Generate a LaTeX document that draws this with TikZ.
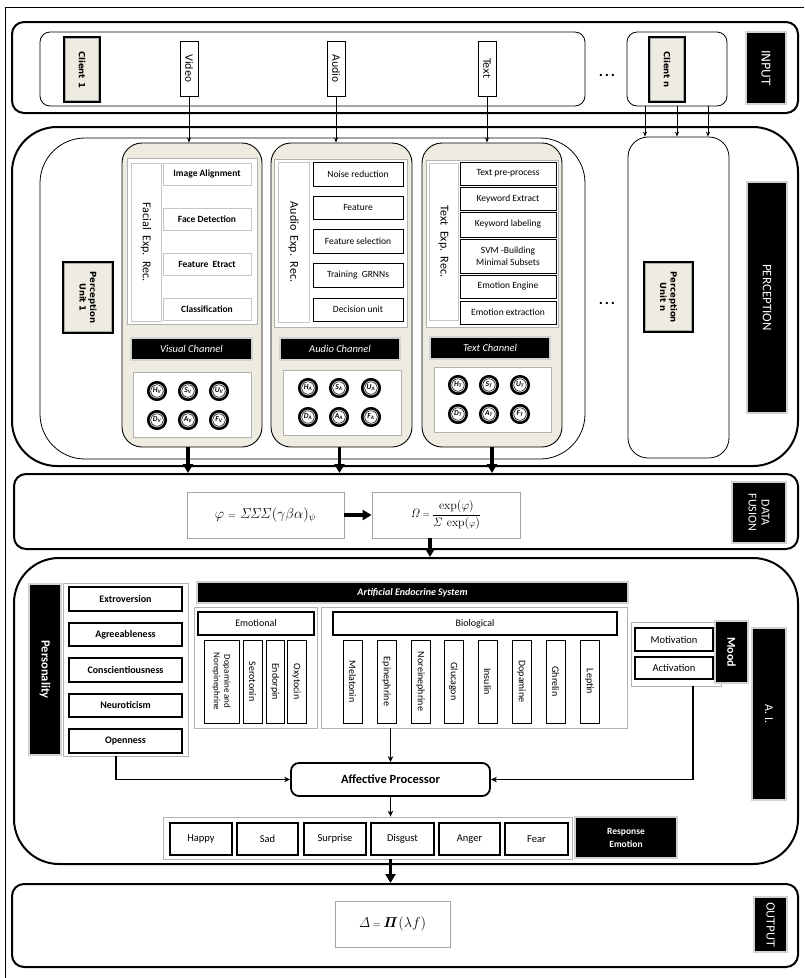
\documentclass[tikz,border=0pt]{standalone}
\usepackage{amsmath}
\usepackage[no-math]{fontspec}
\setmainfont{Carlito}
\newfontfamily\dv{DejaVu Sans}
\usetikzlibrary{arrows.meta,calc}
\definecolor{beige}{RGB}{238,236,225}
\newcommand\fs[2]{\fontsize{#1}{#2}\selectfont}
\newcommand\bx[7]{\node[#2, minimum width={(#5)-(#3)}, minimum height={(#6)-(#4)}, inner sep=0pt, align=center] (#1) at ({((#3)+(#5))/2},{((#4)+(#6))/2}) {#7};}
\newcommand\vt[3]{\node[rotate=-90, align=center, inner sep=0pt, #2] (#1-t) at (#1) {#3};}
\newcommand\dbl[1]{\draw[gray!65, line width=0.7] ($(#1.north west)+(2.8,2.8)$) rectangle ($(#1.south east)+(-2.8,-2.8)$);}
\newcommand\emo[5]{\node[ring] (#1) at (#2,#3) {};\node[ringin] (#1-t) at (#1) {#4\textsubscript{#5}};}
\begin{document}
\begin{tikzpicture}[x=1pt,y=-1pt,
  sec/.style={draw, line width=2, rounded corners=#1},
  lbox/.style={draw, line width=0.8, rounded corners=#1, fill=white},
  bbox/.style={draw=black, line width=2.6, fill=beige},
  blk/.style={fill=black, draw=gray!35, line width=1.2, text=white},
  item/.style={draw=black, line width=0.8, fill=white, font=\fs{9.5}{11.5}},
  itemg/.style={draw=gray!45, line width=0.8, fill=white, font=\fs{9.5}{11.5}\bfseries},
  thk/.style={draw=black, line width=1.8, fill=white, font=\fs{10}{12}\bfseries},
  cont/.style={draw=gray!60, line width=0.8, fill=white},
  chan/.style={draw=black, line width=0.9, fill=beige, rounded corners=20},
  ring/.style={circle, draw, line width=2.6, minimum size=17.5, inner sep=0pt, fill=white},
  ringin/.style={circle, draw, line width=0.6, minimum size=12.5, inner sep=0pt, font=\fs{7.5}{8}\bfseries\itshape},
  ta/.style={draw, line width=0.9, -{Stealth[length=5pt,width=4pt]}},
  ba/.style={draw, line width=3.2, -{Triangle[length=9pt,width=10pt]}},
  ma/.style={draw, line width=1.8, -{Stealth[length=6pt,width=5.5pt]}},
]
\useasboundingbox (0,0) rectangle (804,978);
\draw[line width=0.8] (5,978) -- (5,7) -- (804,7);

% ---------------- INPUT
\bx{inO}{sec=12}{12}{22}{798}{113}{}
\bx{inI}{lbox=10}{40}{32}{585}{106}{}
\bx{cnI}{lbox=10}{627}{32}{727}{106}{}
\bx{cl1}{bbox}{64}{37}{100}{102}{}\dbl{cl1}
\vt{cl1}{font=\dv\fs{8.5}{10}\bfseries}{Client 1}
\bx{invid}{item}{180}{41}{198}{96}{}
\vt{invid}{font=\dv\fs{10}{11}}{Video}
\bx{inaud}{item}{327}{41}{345}{96}{}
\vt{inaud}{font=\dv\fs{10}{11}}{Audio}
\bx{intxt}{item}{478}{41}{496}{96}{}
\vt{intxt}{font=\dv\fs{10}{11}}{Text}
\node[font=\dv\fs{11}{12}\bfseries, inner sep=0pt] (dots1) at (607,75) {.\,.\,.};
\bx{cln}{bbox}{649}{37}{685}{102}{}\dbl{cln}
\vt{cln}{font=\dv\fs{8.5}{10}\bfseries}{Client n}
\bx{inlbl}{blk}{746}{32}{786}{104}{}
\vt{inlbl}{text=white, font=\dv\fs{12}{14}}{INPUT}

% ---------------- PERCEPTION
\bx{pO}{sec=45}{12}{127}{798}{466}{}
\bx{pI}{lbox=45}{40}{138}{585}{459}{}
\bx{pu1}{bbox}{63}{262}{113}{333}{}\dbl{pu1}
\vt{pu1}{font=\dv\fs{8.5}{10.5}\bfseries}{Perception\\Unit 1}

% visual channel
\bx{vis}{chan}{122}{143}{262}{447}{}
\bx{visin}{cont}{127}{158}{257}{324}{}
\bx{fer}{itemg}{131}{163}{161}{321}{}
\vt{fer}{font=\fs{12}{14}}{Facial\ \ Exp.\ \ Rec.}
\bx{vi1}{itemg}{163}{163}{251}{185}{Image Alignment}
\bx{vi2}{itemg}{163}{208}{251}{230}{Face Detection}
\bx{vi3}{itemg}{163}{253}{251}{275}{Feature\ \ Etract}
\bx{vi4}{itemg}{163}{298}{251}{320}{Classification}
\bx{vislbl}{blk}{131}{338}{252}{360}{\fs{10.5}{12}\itshape Visual Channel}
\bx{visc}{cont}{133}{372}{251}{437}{}
\foreach \nm/\cx/\cy in {H/157/391,S/188/391,U/219/391,D/157/420,A/188/420,F/219/420}{\emo{cv\nm}{\cx}{\cy}{\nm}{V}}

% audio channel
\bx{aud}{chan}{271}{143}{412}{447}{}
\bx{audin}{cont}{274}{159}{407}{327}{}
\bx{aer}{itemg}{278}{162}{309}{322}{}
\vt{aer}{font=\fs{12}{14}}{Audio\ \ Exp.\ \ Rec.}
\bx{ai1}{item}{313}{162}{403}{186}{Noise reduction}
\bx{ai2}{item}{313}{196}{403}{219}{Feature}
\bx{ai3}{item}{313}{229}{403}{253}{Feature selection}
\bx{ai4}{item}{313}{263}{403}{287}{Training\ \ GRNNs}
\bx{ai5}{item}{313}{298}{403}{321}{Decision unit}
\bx{audlbl}{blk}{280}{338}{400}{360}{\fs{10.5}{12}\itshape Audio Channel}
\bx{audc}{cont}{283}{370}{401}{435}{}
\foreach \nm/\cx/\cy in {H/308/388,S/339/388,U/371/388,D/308/417,A/339/417,F/371/417}{\emo{ca\nm}{\cx}{\cy}{\nm}{A}}

% text channel
\bx{txt}{chan}{422}{143}{562}{447}{}
\bx{txtin}{cont}{426}{160}{558}{327}{}
\bx{ter}{itemg}{429}{163}{458}{320}{}
\vt{ter}{font=\fs{12}{14}}{Text\ \ Exp.\ \ Rec.}
\bx{ti1}{item}{460}{162}{556}{185}{Text pre-process}
\bx{ti2}{item}{460}{187}{556}{210}{Keyword Extract}
\bx{ti3}{item}{460}{212}{556}{237}{Keyword labeling}
\bx{ti4}{item}{460}{239}{556}{273}{SVM -Building\\Minimal Subsets}
\bx{ti5}{item}{460}{275}{556}{298}{Emotion Engine}
\bx{ti6}{item}{460}{301}{556}{324}{Emotion extraction}
\bx{txtlbl}{blk}{430}{337}{550}{359}{\fs{10.5}{12}\itshape Text Channel}
\bx{txtc}{cont}{434}{367}{551}{432}{}
\foreach \nm/\cx/\cy in {H/458/385,S/489/385,U/520/385,D/458/414,A/489/414,F/520/414}{\emo{ct\nm}{\cx}{\cy}{\nm}{T}}

\node[font=\dv\fs{11}{12}\bfseries, inner sep=0pt] (dots2) at (607,303) {.\,.\,.};
\bx{pun}{lbox=20}{628}{137}{729}{458}{}
\bx{punl}{bbox}{644}{262}{693}{332}{}\dbl{punl}
\vt{punl}{font=\dv\fs{8.5}{10.5}\bfseries}{Perception\\Unit n}
\bx{plbl}{blk}{747}{182}{787}{413}{}
\vt{plbl}{text=white, font=\fs{13}{15}}{PERCEPTION}

% input arrows
\draw[ta] (invid.south) -- (invid.south |- vis.north);
\draw[ta] (inaud.south) -- (inaud.south |- aud.north);
\draw[ta] (intxt.south) -- (intxt.south |- txt.north);
\draw[ta] ([xshift=-32]cnI.south) -- ([xshift=-32]cnI.south |- pun.north);
\draw[ta] (cnI.south) -- (cnI.south |- pun.north);
\draw[ta] ([xshift=31]cnI.south) -- ([xshift=31]cnI.south |- pun.north);

% ---------------- DATA FUSION
\bx{df}{sec=12}{14}{474}{798}{549}{}
\bx{f1}{draw=gray!70, line width=0.8, fill=white}{187}{492}{344}{538}{\fs{14}{16}$\varphi\;{\scriptstyle=}\;\mathit{\Sigma\Sigma\Sigma}(\gamma\beta\alpha)_{\psi}$}
\bx{f2}{draw=gray!70, line width=0.8, fill=white}{372}{492}{520}{538}{\fs{13}{15}$\mathit{\Omega}\,{\scriptstyle=}\,\dfrac{\exp(\varphi)}{\mathit{\Sigma}\,\exp({\scriptstyle\varphi})}$}
\bx{dflbl}{blk}{732}{482}{786}{543}{}
\vt{dflbl}{text=white, font=\fs{12}{13}}{DATA\\FUSION}
\draw[ba] ([xshift=-4]vis.south) -- ([xshift=-4]vis.south |- df.north);
\draw[ba] ([xshift=-2]aud.south) -- ([xshift=-2]aud.south |- df.north);
\draw[ba] (txt.south) -- (txt.south |- df.north);
\draw[ba] (f1.east) -- (f2.west);

% ---------------- A.I.
\bx{aiO}{sec=45}{14}{558}{798}{864}{}
\draw[ba] ([xshift=-16]f2.south) -- ([xshift=-16]f2.south |- aiO.north);
\bx{perlbl}{blk}{29}{584}{61}{755}{}
\vt{perlbl}{text=white, font=\fs{12.5}{14}\bfseries}{Personality}
\bx{pcont}{cont}{63}{583}{188}{756}{}
\bx{pe1}{thk}{69}{587}{182}{611}{Extroversion}
\bx{pe2}{thk}{69}{623}{182}{646}{Agreeableness}
\bx{pe3}{thk}{69}{658}{182}{682}{Conscientiousness}
\bx{pe4}{thk}{69}{694}{182}{717}{Neuroticism}
\bx{pe5}{thk}{69}{729}{182}{753}{Openness}

\bx{aes}{blk}{197}{582}{628}{603}{\fs{10}{12}\bfseries\itshape Artificial Endocrine System}
\bx{emc}{cont}{194}{607}{317}{728}{}
\bx{eml}{thk}{198}{612}{314}{635}{\mdseries Emotional}
\bx{em1}{item}{204}{640}{239}{723}{}
\vt{em1}{font=\fs{9}{10.5}}{Dopamine and\\Norepinephrine}
\bx{em2}{item}{243}{640}{262}{723}{}
\vt{em2}{font=\fs{10}{12}}{Serotonin}
\bx{em3}{item}{266}{640}{284}{723}{}
\vt{em3}{font=\fs{10}{12}}{Endorpin}
\bx{em4}{item}{287}{640}{306}{723}{}
\vt{em4}{font=\fs{10}{12}}{Oxytocin}

\bx{bioc}{cont}{321}{607}{627}{728}{}
\bx{biol}{thk}{333}{612}{617}{635}{\mdseries Biological}
\foreach \i/\xa/\lab in {1/343/Melatonin,2/377/Epinephrine,3/411/Noreinephrine,4/444/Glucagon,5/478/Insulin,6/512/Dopamine,7/546/Ghrelin,8/580/Leptin}{
  \bx{bi\i}{item}{\xa}{640}{\xa+19}{723}{}
  \vt{bi\i}{font=\fs{10}{12}}{\lab}
}

\bx{moodc}{cont}{631}{622}{721}{686}{}
\bx{mot}{thk}{635}{628}{713}{651}{\mdseries\fs{10.5}{12}Motivation}
\bx{act}{thk}{635}{657}{713}{679}{\mdseries\fs{10.5}{12}Activation}
\bx{moodl}{blk}{715}{621}{748}{683}{}
\vt{moodl}{text=white, font=\fs{12}{14}\bfseries}{Mood}
\bx{ailbl}{blk}{752}{628}{786}{800}{}
\vt{ailbl}{text=white, font=\fs{12}{14}}{A. I.}

\bx{ap}{thk, rounded corners=8}{291}{763}{490}{796}{\fs{12.5}{14}Affective Processor}
\bx{ec}{cont}{163}{817}{572}{859}{}
\foreach \i/\xa/\xb/\lab in {1/170/232/Happy,2/237/298/Sad,3/304/366/Surprise,4/371/434/Disgust,5/439/500/Anger,6/505/568/Fear}{
  \bx{re\i}{thk}{\xa}{823}{\xb}{855}{\mdseries\fs{10.5}{12}\lab}
}
\bx{rel}{blk, font=\fs{9.5}{13}\bfseries}{575}{817}{677}{858}{Response\\Emotion}

\draw[ma] (ap.north |- bioc.south) -- (ap.north);
\draw[ma] ([xshift=-9.5]pcont.south) |- (ap.west);
\draw[ma] ([xshift=17]moodc.south) |- (ap.east);
\draw[ma] (ap.south) -- (ap.south |- ec.north);

% ---------------- OUTPUT
\bx{out}{sec=12}{12}{884}{798}{967}{}
\bx{f3}{draw=gray!70, line width=0.8, fill=white}{335}{901}{450}{947}{\fs{14}{16}$\mathit{\Delta}\,{\scriptstyle=}\,\boldsymbol{\mathit{\Pi}}(\lambda f)$}
\bx{outlbl}{blk}{754}{897}{787}{952}{}
\vt{outlbl}{text=white, font=\dv\fs{11}{12}}{OUTPUT}
\draw[ba] (ap.south |- ec.south) -- (ap.south |- out.north);
\end{tikzpicture}
\end{document}
